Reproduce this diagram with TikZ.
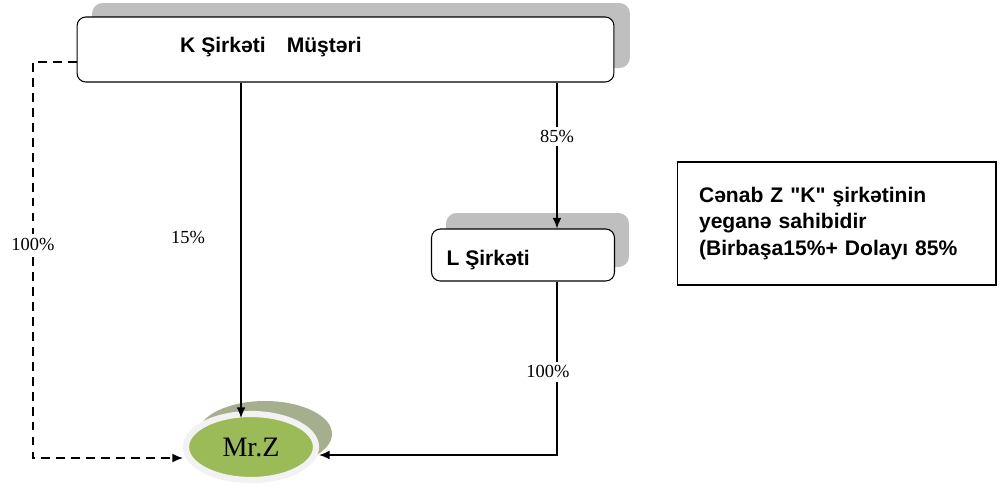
\documentclass[tikz,border=0pt]{standalone}
\usepackage{fontspec}
\setmainfont{Liberation Serif}
\newfontfamily\arialfont{Liberation Sans}
\usetikzlibrary{arrows.meta,shapes.geometric}

\definecolor{zgreen}{HTML}{9BBB59}
\definecolor{zshadow}{HTML}{A5AF8E}
\definecolor{boxshadow}{HTML}{BFBFBF}

\begin{document}
\begin{tikzpicture}[x=0.02cm,y=-0.02cm,>={Latex[length=6pt,width=5pt]},thick]

        \tikzstyle{firm}=[draw=black,semithick,fill=white,rounded corners=5pt,inner sep=0pt]
        \tikzstyle{backbox}=[fill=boxshadow,rounded corners=6pt,inner sep=0pt]
        \tikzstyle{pct}=[fill=white,inner sep=2pt,font=\fontsize{10.5}{12}\selectfont]
        \tikzstyle{sans}=[font=\arialfont\bfseries\fontsize{12}{15}\selectfont]

        \useasboundingbox (0,0) rectangle (1003,488);

        % shadows behind the boxes
        \node[backbox,minimum width=10.76cm,minimum height=1.3cm] (Ksh) at (361,35.5) {};
        \node[backbox,minimum width=3.66cm,minimum height=1.08cm] (Lsh) at (537.5,240) {};
        \node[ellipse,fill=zshadow,minimum width=2.68cm,minimum height=1.32cm] (zsh) at (265,434) {};

        % companies and owner
        \node[firm,minimum width=10.74cm,minimum height=1.3cm] (K) at (345.5,49.5) {};
        \node[sans,anchor=base] (Kt) at (271,52) {K Şirkəti\hspace{1em}Müştəri};
        \node[firm,minimum width=3.66cm,minimum height=1.04cm] (L) at (523,255) {};
        \node[sans,anchor=base west] (Lt) at (440,265) {L Şirkəti};
        \node[ellipse,fill=zgreen,draw=black!5,line width=3.5pt,minimum width=2.6cm,minimum height=1.32cm,
              font=\fontsize{16}{18}\selectfont] (mrz) at (251,447) {Mr.Z};
        \node[draw=black,semithick,minimum width=6.34cm,minimum height=2.46cm,text width=5.5cm,align=left,
              inner xsep=0.44cm,sans] (R) at (836.5,223.5) {Cənab Z "K" şirkətinin\\ yeganə sahibidir\\ (Birbaşa15\%+ Dolayı 85\%};

        \coordinate (a) at (241,0);
        \coordinate (b) at (557,0);
        \coordinate (d1) at (33,62);
        \coordinate (d2) at (33,458);
        \coordinate (e) at (557,455);

        \draw[->,shorten >=-4pt] (K.south -| a) -- (mrz.north -| a);
        \node[pct] (p15) at (188,237) {15\%};
        \draw[->] (K.south -| b) -- node[pct,pos=0.37] {85\%} (L.north -| b);
        \draw[->] (L.south -| b) -- node[pct,pos=0.52,xshift=-0.18cm] {100\%} (e) -- (e -| mrz.east);
        \draw[->,dash pattern=on 5pt off 3.5pt] (K.west |- d1) -- (d1) -- node[pct,pos=0.46] {100\%} (d2) -- (d2 -| mrz.west);

\end{tikzpicture}
\end{document}
